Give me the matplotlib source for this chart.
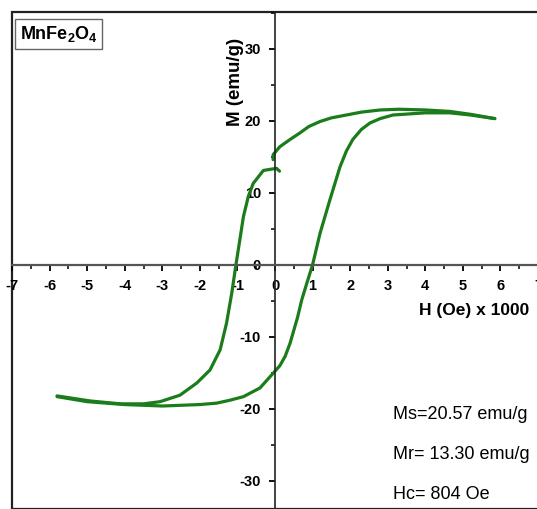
import matplotlib.pyplot as plt
from matplotlib.patches import Rectangle
from matplotlib.ticker import MultipleLocator
import numpy as np

plt.rcParams['font.family'] = ['Liberation Sans', 'DejaVu Sans']
plt.rcParams['mathtext.fontset'] = 'custom'
plt.rcParams['mathtext.rm'] = 'Liberation Sans'
plt.rcParams['mathtext.bf'] = 'Liberation Sans:bold'

# upper branch (field sweeping down from +Hmax)
H_top = [5.85, 5.2, 4.65, 4.0, 3.3, 2.8, 2.3, 1.9, 1.5, 1.2, 0.9, 0.66, 0.4, 0.13, -0.05, -0.05]
M_top = [20.3, 20.9, 21.3, 21.5, 21.6, 21.5, 21.2, 20.8, 20.4, 19.9, 19.2, 18.3, 17.4, 16.4, 15.3, 14.6]

# continuation of the down sweep after the small jump near H=0
H_down = [0.12, 0.04, -0.31, -0.58, -0.71, -0.84, -0.95, -1.04, -1.15, -1.29, -1.46, -1.73, -2.08,
          -2.53, -3.06, -3.5, -4.12, -4.92, -5.8]
M_down = [13.0, 13.4, 13.1, 11.3, 9.5, 6.7, 3.0, 0.0, -3.9, -8.1, -11.8, -14.6, -16.4,
          -18.1, -19.0, -19.3, -19.3, -18.9, -18.2]

# lower branch (field sweeping up from -Hmax)
H_up = [-5.8, -5.0, -4.0, -3.0, -2.0, -1.55, -1.2, -0.84, -0.4, -0.04, 0.13, 0.27, 0.4, 0.6, 0.71,
        0.85, 1.0, 1.2, 1.46, 1.73, 1.9, 2.07, 2.3, 2.53, 2.8, 3.14, 4.0, 4.65, 5.2, 5.85]
M_up = [-18.3, -19.0, -19.4, -19.6, -19.4, -19.2, -18.8, -18.3, -17.1, -15.0, -14.0, -12.7, -10.9, -7.3, -4.9,
        -2.5, 0.0, 4.4, 9.0, 13.6, 15.8, 17.4, 18.8, 19.7, 20.3, 20.8, 21.1, 21.1, 20.8, 20.3]

notes = ['Ms=20.57 emu/g', 'Mr= 13.30 emu/g', 'Hc= 804 Oe']

fig = plt.figure(figsize=(5.37, 5.09), dpi=100)
ax = fig.add_axes([12/537, 0.0, 526/537, 497/509])
ax.set_xlim(-7, 7)
ax.set_ylim(-33.9, 35.1)

green = '#1b7c1b'
for hh, mm in [(H_top, M_top), (H_down, M_down), (H_up, M_up)]:
    ax.plot(hh, mm, color=green, lw=2.3, solid_capstyle='round', solid_joinstyle='round')

# axes through the origin
for s in ['top', 'right']:
    ax.spines[s].set_visible(False)
ax.spines['left'].set_position(('data', 0))
ax.spines['bottom'].set_position(('data', 0))
ax.spines['left'].set_color('#222222')
ax.spines['bottom'].set_color('#555555')
ax.spines['left'].set_linewidth(1.2)
ax.spines['bottom'].set_linewidth(1.6)

# outer frame
ax.add_patch(Rectangle((0, 0), 1.2, 1, transform=ax.transAxes, fill=False,
                       edgecolor='#222222', lw=1.6, clip_on=False))

ax.xaxis.set_major_locator(MultipleLocator(1))
ax.xaxis.set_minor_locator(MultipleLocator(0.5))
ax.yaxis.set_major_locator(MultipleLocator(10))
ax.yaxis.set_minor_locator(MultipleLocator(5))
ax.set_xticks(np.arange(-7, 8, 1))
ax.tick_params(axis='both', which='major', direction='out', length=4, width=1.3,
               labelsize=10.5, pad=6)
ax.tick_params(axis='both', which='minor', direction='out', length=3, width=1.1)
for lab in ax.get_xticklabels() + ax.get_yticklabels():
    lab.set_fontweight('bold')
ax.xaxis.set_major_formatter(plt.FuncFormatter(lambda v, p: '%d' % v))
ax.yaxis.set_major_formatter(plt.FuncFormatter(lambda v, p: '%d' % v))

ax.text(5.29, -6.3, 'H (Oe) x 1000', ha='center', va='center', fontsize=12.5, fontweight='bold')
ax.text(-1.06, 25.4, 'M (emu/g)', ha='center', va='center', rotation=90, fontsize=13.5,
        fontweight='bold')

for i, t in enumerate(notes):
    ax.text(3.15, -20.8 - 5.55 * i, t, ha='left', va='center', fontsize=13)

fig.text(20/537, 1 - 34/509, r'$\mathbf{MnFe_2O_4}$', ha='left', va='center', fontsize=13,
         bbox=dict(boxstyle='square,pad=0.25', facecolor='white', edgecolor='#666666', lw=1))

fig.savefig('out.png', dpi=100)
